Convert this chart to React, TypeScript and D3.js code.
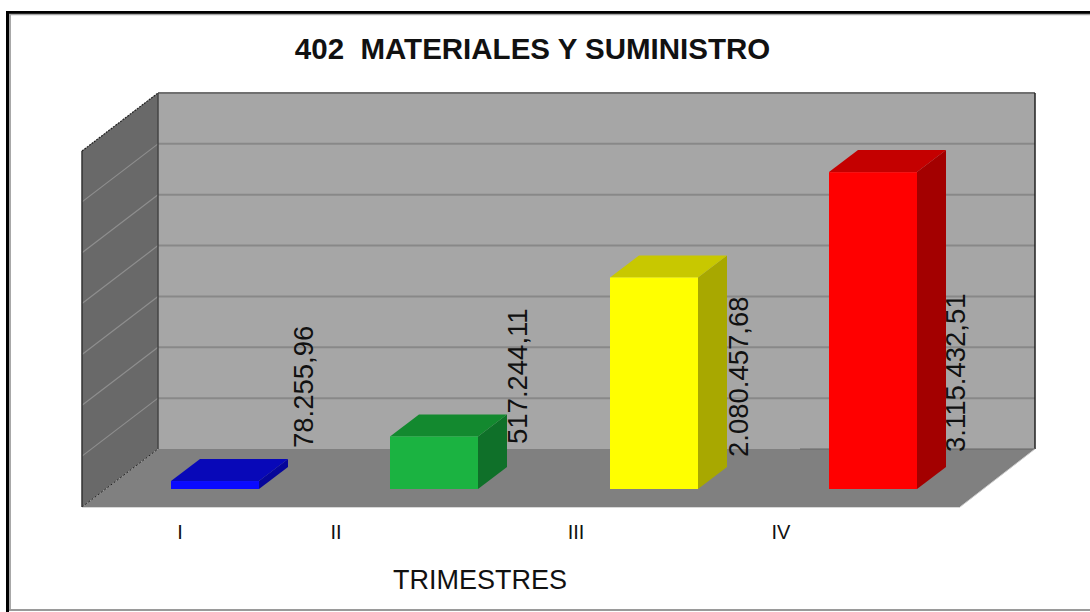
import React from "react";
import * as d3 from "d3";

const title = "402  MATERIALES Y SUMINISTRO";
const axisTitle = "TRIMESTRES";
const categories = ["I", "II", "III", "IV"];
const values = [78255.96, 517244.11, 2080457.68, 3115432.51];
const valueLabels = ["78.255,96", "517.244,11", "2.080.457,68", "3.115.432,51"];
const gridTicks = [0, 500000, 1000000, 1500000, 2000000, 2500000, 3000000, 3500000];
const frontColors = ["#0a0aff", "#1bb341", "#ffff00", "#ff0000"];
const topColors = ["#0808b8", "#13892f", "#c8c800", "#c40000"];
const sideColors = ["#06069a", "#0f7029", "#a8a800", "#a30000"];
const catLabelX = [180, 336, 576, 781];
const labelX = [313, 527, 748, 965];
const labelY = [448, 444, 457, 452];
const barStarts = [171, 390, 610, 829];

const DX = 76, DY = -58;
const floorY = 507;
const wallLeft = 82, wallRight = 960;

export default function App() {
  const yBack = d3.scaleLinear().domain([0, 3500000]).range([449, 93]);
  const yFront = d3.scaleLinear().domain([0, 3500000]).range([489, 133]);
  const bw = 88, dx = 29, dy = -22;
  const xPos = d3.scaleOrdinal<string, number>().domain(categories).range(barStarts);
  return (
    <svg width={1090} height={612} style={{ position: "absolute", left: 0, top: 0, background: "#fff" }} fontFamily="'Liberation Sans', Arial, sans-serif">
      <line x1={6} y1={12.5} x2={1090} y2={12.5} stroke="#000" strokeWidth={3} />
      <line x1={7.5} y1={11} x2={7.5} y2={612} stroke="#000" strokeWidth={3} />
      <line x1={9} y1={14.5} x2={1090} y2={14.5} stroke="#a8a8a8" strokeWidth={1.5} />
      <line x1={10} y1={14} x2={10} y2={610} stroke="#a8a8a8" strokeWidth={2} />
      <line x1={9} y1={610} x2={1090} y2={610} stroke="#9a9a9a" strokeWidth={2} />
      <text x={532.5} y={59} textAnchor="middle" fontSize={29.5} fontWeight={700} xmlSpace="preserve" style={{ whiteSpace: "pre" }} fill="#111">{title}</text>

      <polygon points={`${wallLeft + DX},93 1035,93 1035,449 ${wallLeft + DX},449`} fill="#a6a6a6" />
      <polygon points={`${wallLeft},${floorY} ${wallLeft},${93 - DY} ${wallLeft + DX},93 ${wallLeft + DX},449`} fill="#696969" />
      <polygon points={`${wallLeft},${floorY} ${wallRight},${floorY} 1035,449 ${wallLeft + DX},449`} fill="#808080" />

      {gridTicks.map((t) => (
        <g key={t}>
          {t > 0 && <line x1={wallLeft + DX} x2={1035} y1={yBack(t)} y2={yBack(t)} stroke={t === 3500000 ? "#707070" : "#888888"} strokeWidth={2} />}
          {t > 0 && t < 3500000 && <line x1={wallLeft} x2={wallLeft + DX} y1={yBack(t) - DY} y2={yBack(t)} stroke="#8e8e8e" strokeWidth={1.2} />}
        </g>
      ))}
      <line x1={wallLeft} x2={wallLeft + DX} y1={floorY} y2={449} stroke="#222" strokeWidth={1} strokeDasharray="2 2" />
      <line x1={wallLeft} x2={wallLeft + DX} y1={93 - DY} y2={93} stroke="#222" strokeWidth={1.2} strokeDasharray="2 1" />
      <line x1={wallLeft} x2={wallLeft} y1={93 - DY} y2={floorY} stroke="#333" strokeWidth={1.5} />
      <line x1={wallLeft + DX} x2={wallLeft + DX} y1={93} y2={449} stroke="#444" strokeWidth={1.5} />
      <line x1={1035} x2={1035} y1={93} y2={449} stroke="#222" strokeWidth={1.5} />
      <line x1={800} x2={1035} y1={449} y2={449} stroke="#666" strokeWidth={1.2} />
      <line x1={wallLeft} x2={wallRight} y1={floorY + 0.5} y2={floorY + 0.5} stroke="#d8d8d8" strokeWidth={1} />
      <line x1={wallRight} x2={1035} y1={floorY} y2={449} stroke="#ccc" strokeWidth={1} />

      {categories.map((c, i) => {
        const x0 = xPos(c);
        const top = yFront(values[i]);
        const base = yFront(0);
        return (
          <g key={c}>
            <polygon points={`${x0 + bw},${base} ${x0 + bw + dx},${base + dy} ${x0 + bw + dx},${top + dy} ${x0 + bw},${top}`} fill={sideColors[i]} />
            <polygon points={`${x0},${top} ${x0 + dx},${top + dy} ${x0 + bw + dx},${top + dy} ${x0 + bw},${top}`} fill={topColors[i]} />
            <rect x={x0} y={top} width={bw} height={base - top} fill={frontColors[i]} />
          </g>
        );
      })}

      {categories.map((c, i) => (
        <text key={c} transform={`translate(${labelX[i]},${labelY[i]}) rotate(-90)`} fontSize={27.5} fill="#111">{valueLabels[i]}</text>
      ))}

      {categories.map((c, i) => (
        <text key={c} x={catLabelX[i]} y={539} textAnchor="middle" fontSize={20} fill="#111">{c}</text>
      ))}
      <text x={480} y={589} textAnchor="middle" fontSize={27} fill="#111">{axisTitle}</text>
    </svg>
  );
}
